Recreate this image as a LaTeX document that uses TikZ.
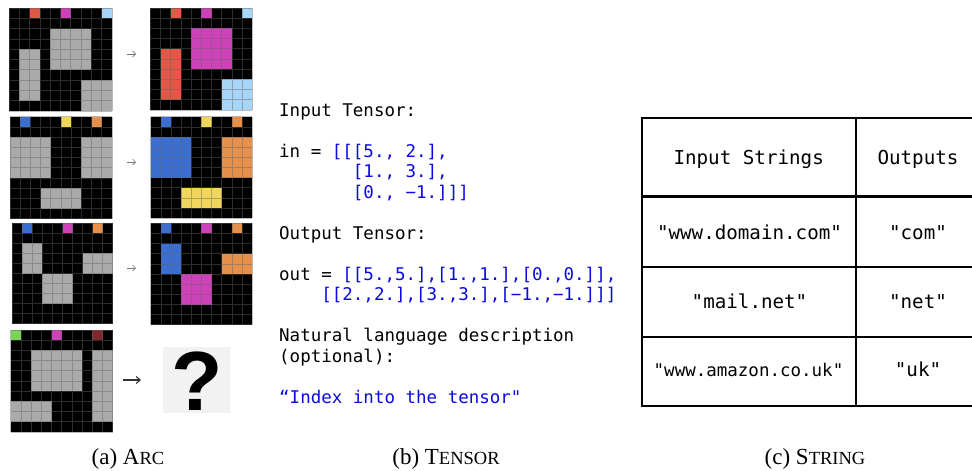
\documentclass[tikz,border=0pt]{standalone}
\usepackage{fontspec}
\setmainfont{Liberation Serif}
\setmonofont{DejaVu Sans Mono}
\newfontfamily\qfont{Liberation Sans}
\usetikzlibrary{arrows.meta}
\definecolor{arcred}{RGB}{225,88,70}
\definecolor{arcmag}{RGB}{205,65,185}
\definecolor{arclblue}{RGB}{168,214,248}
\definecolor{arcblue}{RGB}{60,110,210}
\definecolor{arcyellow}{RGB}{240,214,90}
\definecolor{arcorange}{RGB}{230,145,75}
\definecolor{arcgreen}{RGB}{125,210,90}
\definecolor{arcmaroon}{RGB}{128,40,45}
\definecolor{arcgray}{RGB}{170,170,170}
\definecolor{codeblue}{RGB}{10,10,225}
\definecolor{qbg}{RGB}{242,242,242}
\tikzset{
  gridln/.style={line width=0.7pt, draw={rgb,255:red,100;green,100;blue,100}, opacity=0.45},
  smallarrow/.style={draw={rgb,255:red,120;green,120;blue,120}, line width=0.6pt, -{Straight Barb[length=3pt,width=6pt]}},
  bigarrow/.style={draw={rgb,255:red,50;green,50;blue,50}, line width=1.1pt, -{Straight Barb[length=4pt,width=7pt]}},
  codeline/.style={anchor=base west, inner sep=0pt, font=\fontsize{17.5}{20}\selectfont\ttfamily},
  tabtxt/.style={anchor=base, inner sep=0pt, font=\fontsize{19.2}{22}\selectfont\ttfamily},
  tabline/.style={line width=2pt, draw=black},
  captxt/.style={anchor=base, inner sep=0pt, font=\fontsize{23}{25}\selectfont}
}
\newcommand{\arcgrid}[4]{%
  \begin{scope}[shift={(#1,#2)}, x=#3pt, y=-#3pt]
    \fill[black] (0,0) rectangle (10,10);
    #4
    \draw[gridln] \foreach \i in {0,...,10} {(\i,0) -- (\i,10) (0,\i) -- (10,\i)};
  \end{scope}}
\newcommand{\cel}[5]{\fill[#5] (#1,#2) rectangle ++(#3,#4);}
\newcommand{\sm}[1]{{\fontsize{18.5}{20}\selectfont #1}}
\begin{document}
\begin{tikzpicture}[x=1pt, y=-1pt]
\useasboundingbox (0,0) rectangle (972,471);
\fill[white] (0,0) rectangle (972,471);

% ---- ARC ----
\arcgrid{9}{8}{10.3}{%
  \cel{2}{0}{1}{1}{arcred}\cel{5}{0}{1}{1}{arcmag}\cel{9}{0}{1}{1}{arclblue}
  \cel{4}{2}{4}{4}{arcgray}\cel{1}{4}{2}{5}{arcgray}\cel{7}{7}{3}{3}{arcgray}}
\arcgrid{150.3}{8}{10.2}{%
  \cel{2}{0}{1}{1}{arcred}\cel{5}{0}{1}{1}{arcmag}\cel{9}{0}{1}{1}{arclblue}
  \cel{4}{2}{4}{4}{arcmag}\cel{1}{4}{2}{5}{arcred}\cel{7}{7}{3}{3}{arclblue}}
\arcgrid{10}{116.7}{10.2}{%
  \cel{1}{0}{1}{1}{arcblue}\cel{5}{0}{1}{1}{arcyellow}\cel{8}{0}{1}{1}{arcorange}
  \cel{0}{2}{4}{4}{arcgray}\cel{7}{2}{3}{4}{arcgray}\cel{3}{7}{4}{2}{arcgray}}
\arcgrid{150.7}{116.7}{10.15}{%
  \cel{1}{0}{1}{1}{arcblue}\cel{5}{0}{1}{1}{arcyellow}\cel{8}{0}{1}{1}{arcorange}
  \cel{0}{2}{4}{4}{arcblue}\cel{7}{2}{3}{4}{arcorange}\cel{3}{7}{4}{2}{arcyellow}}
\arcgrid{12.3}{223.3}{10.05}{%
  \cel{1}{0}{1}{1}{arcblue}\cel{5}{0}{1}{1}{arcmag}\cel{8}{0}{1}{1}{arcorange}
  \cel{1}{2}{2}{3}{arcgray}\cel{7}{3}{3}{2}{arcgray}\cel{3}{5}{3}{3}{arcgray}}
\arcgrid{150.7}{223.3}{10.15}{%
  \cel{1}{0}{1}{1}{arcblue}\cel{5}{0}{1}{1}{arcmag}\cel{8}{0}{1}{1}{arcorange}
  \cel{1}{2}{2}{3}{arcblue}\cel{7}{3}{3}{2}{arcorange}\cel{3}{5}{3}{3}{arcmag}}
\arcgrid{10.7}{330}{10.2}{%
  \cel{0}{0}{1}{1}{arcgreen}\cel{4}{0}{1}{1}{arcmag}\cel{8}{0}{1}{1}{arcmaroon}
  \cel{2}{2}{5}{4}{arcgray}\cel{8}{2}{2}{7}{arcgray}\cel{0}{7}{4}{2}{arcgray}}

\fill[qbg] (163,347) rectangle (230,413);
\node[anchor=base, inner sep=0pt, font=\fontsize{84}{84}\selectfont\qfont\bfseries] (qm) at (197.5,410.7) {?};

\coordinate (a1s) at (126.5,54);  \coordinate (a1e) at (136,54);
\coordinate (a2s) at (126.5,162); \coordinate (a2e) at (136,162);
\coordinate (a3s) at (126.5,268); \coordinate (a3e) at (136,268);
\coordinate (a4s) at (122.5,380); \coordinate (a4e) at (141,380);
\draw[smallarrow] (a1s) -- (a1e);
\draw[smallarrow] (a2s) -- (a2e);
\draw[smallarrow] (a3s) -- (a3e);
\draw[bigarrow] (a4s) -- (a4e);

% ---- TENSOR ----
\node[codeline] (t1) at (279,116) {Input Tensor:};
\node[codeline] (t2) at (279,157) {in = \textcolor{codeblue}{[[[5., 2.],}};
\node[codeline] (t3) at (279,177.5) {\ \ \ \ \ \ \ \textcolor{codeblue}{[1., 3.],}};
\node[codeline] (t4) at (279,198) {\ \ \ \ \ \ \ \textcolor{codeblue}{[0., −1.]]]}};
\node[codeline] (t5) at (279,239) {Output Tensor:};
\node[codeline] (t6) at (279,280) {out = \textcolor{codeblue}{[[5.,5.],[1.,1.],[0.,0.]],}};
\node[codeline] (t7) at (279,300.5) {\ \ \ \ \textcolor{codeblue}{[[2.,2.],[3.,3.],[−1.,−1.]]]}};
\node[codeline] (t8) at (279,341.5) {Natural language description};
\node[codeline] (t9) at (279,362) {(optional):};
\node[codeline, text=codeblue] (t10) at (279,403) {“Index into the tensor"};

% ---- STRING ----
\draw[tabline] (985,118.3) -- (641.7,118.3) -- (641.7,406) -- (985,406);
\draw[tabline] (855.7,118.3) -- (855.7,406);
\draw[line width=3pt] (641.7,196.7) -- (985,196.7);
\draw[tabline] (641.7,267.3) -- (985,267.3);
\draw[tabline] (641.7,336.7) -- (985,336.7);
\node[tabtxt] (h1) at (748.7,164) {Input Strings};
\node[tabtxt] (h2) at (918,164) {Outputs};
\node[tabtxt] (r1a) at (749.5,239.3) {"www.domain.com"};
\node[tabtxt] (r1b) at (918,239.3) {"com"};
\node[tabtxt] (r2a) at (749.5,308.7) {"mail.net"};
\node[tabtxt] (r2b) at (918,308.7) {"net"};
\node[tabtxt, font=\fontsize{17.5}{20}\selectfont\ttfamily] (r3a) at (748.5,376.7) {"www.amazon.co.uk"};
\node[tabtxt] (r3b) at (918,376.7) {"uk"};

% ---- captions ----
\node[captxt] (ca) at (128,464) {(a) A\sm{RC}};
\node[captxt] (cb) at (446,464) {(b) T\sm{ENSOR}};
\node[captxt] (cc) at (815,464) {(c) S\sm{TRING}};
\end{tikzpicture}
\end{document}
